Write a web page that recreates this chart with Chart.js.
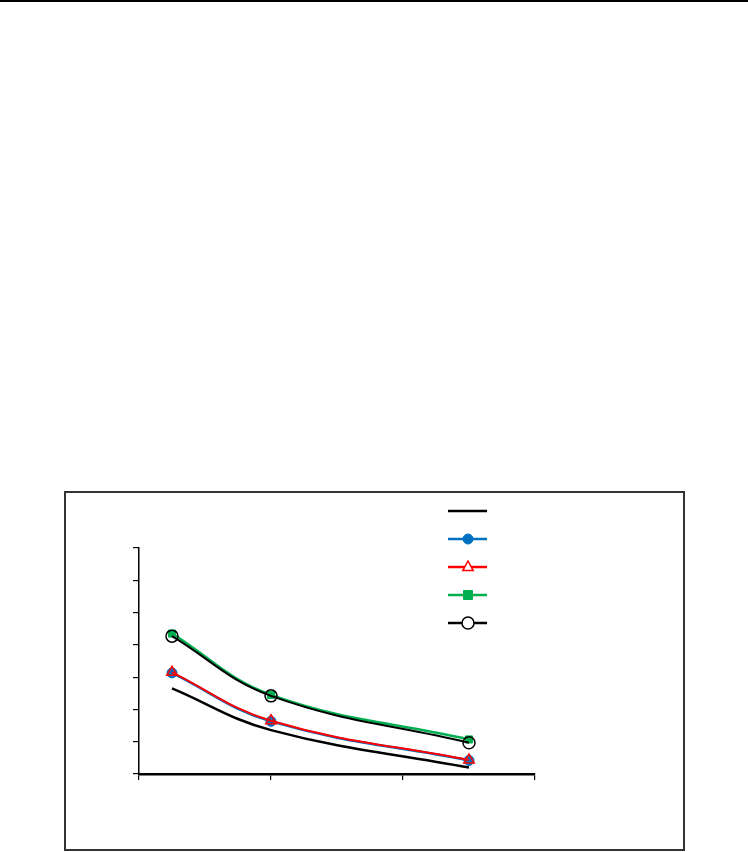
<!DOCTYPE html>
<html>
<head>
<meta charset="utf-8">
<script src="https://cdn.jsdelivr.net/npm/chart.js@4"></script>
<style>
  html, body { margin: 0; padding: 0; background: #fff; }
  #wrap { position: absolute; left: 0; top: 0; width: 748px; height: 852px; }
</style>
</head>
<body>
<div id="wrap"><canvas id="myChart" width="748" height="852"></canvas></div>
<script>
var xValues = [0.25, 1, 2.5];
var blackLine = [2.65, 1.36, 0.2];
var blueDots = [3.13, 1.63, 0.42];
var redTriangles = [3.15, 1.65, 0.43];
var greenSquares = [4.35, 2.45, 1.07];
var blackCircles = [4.27, 2.42, 0.97];

function pts(ys) {
    return xValues.map(function (x, i) { return { x: x, y: ys[i] }; });
}

// drawn top-first: index 0 lies on top
var datasets = [
    { data: pts(blackCircles), borderColor: '#000', borderWidth: 2, pointStyle: 'circle', pointRadius: 6,
      pointBackgroundColor: 'rgba(0,0,0,0)', pointBorderColor: '#000', pointBorderWidth: 1.5 },
    { data: pts(greenSquares), borderColor: '#00B050', borderWidth: 2.5, pointStyle: 'rect', pointRadius: 5,
      pointBackgroundColor: '#00B050', pointBorderColor: '#00B050', pointBorderWidth: 1 },
    { data: pts(redTriangles), borderColor: '#FF0000', borderWidth: 2, pointStyle: 'triangle', pointRadius: 6,
      pointBackgroundColor: 'rgba(0,0,0,0)', pointBorderColor: '#FF0000', pointBorderWidth: 1.5 },
    { data: pts(blueDots), borderColor: '#0070C0', borderWidth: 2.5, pointStyle: 'circle', pointRadius: 5,
      pointBackgroundColor: '#0070C0', pointBorderColor: '#0070C0', pointBorderWidth: 1 },
    { data: pts(blackLine), borderColor: '#000', borderWidth: 2.5, pointRadius: 0 }
];
datasets.forEach(function (d) { d.showLine = true; d.tension = 0.4; d.fill = false; });

// legend rows, top to bottom: which dataset each row shows
var legendRows = [4, 3, 2, 1, 0];

var decor = {
    id: 'decor',
    afterDraw: function (chart) {
        var c = chart.ctx;
        c.save();
        c.fillStyle = '#000';
        c.fillRect(0, 0, 748, 2);
        c.strokeStyle = '#333';
        c.lineWidth = 2;
        c.strokeRect(65, 492, 619, 358);
        legendRows.forEach(function (di, row) {
            var d = chart.data.datasets[di];
            var y = 511 + row * 28;
            c.strokeStyle = d.borderColor;
            c.lineWidth = 2.5;
            c.beginPath();
            c.moveTo(448, y);
            c.lineTo(487, y);
            c.stroke();
            if (d.pointRadius > 0) {
                c.fillStyle = d.pointBackgroundColor === 'rgba(0,0,0,0)' ? '#fff' : d.pointBackgroundColor;
                c.strokeStyle = d.pointBorderColor;
                c.lineWidth = d.pointBorderWidth;
                c.beginPath();
                if (d.pointStyle === 'circle') {
                    c.arc(468, y, d.pointRadius, 0, Math.PI * 2);
                } else if (d.pointStyle === 'rect') {
                    var s = d.pointRadius * 0.9;
                    c.rect(468 - s, y - s, s * 2, s * 2);
                } else {
                    var r = d.pointRadius;
                    c.moveTo(468, y - r);
                    c.lineTo(468 + r * 0.87, y + r * 0.6);
                    c.lineTo(468 - r * 0.87, y + r * 0.6);
                    c.closePath();
                }
                c.fill();
                c.stroke();
            }
        });
        c.restore();
    }
};

var ctx = document.getElementById('myChart').getContext('2d');
var myChart = new Chart(ctx, {
    type: 'scatter',
    data: { datasets: datasets },
    options: {
        responsive: false,
        animation: false,
        layout: { padding: { left: 132, right: 213, top: 548, bottom: 72 } },
        plugins: { legend: { display: false }, tooltip: { enabled: false } },
        scales: {
            x: {
                type: 'linear', min: 0, max: 3,
                ticks: { display: false, stepSize: 1 },
                grid: { drawOnChartArea: false, drawTicks: true, tickLength: 6, color: '#000', lineWidth: 1.2 },
                border: { color: '#000', width: 2.5 },
                afterFit: function (s) { s.height = 6; }
            },
            y: {
                type: 'linear', min: 0, max: 7,
                ticks: { display: false, stepSize: 1 },
                grid: { drawOnChartArea: false, drawTicks: true, tickLength: 6, color: '#000', lineWidth: 1.2 },
                border: { color: '#000', width: 1.5 },
                afterFit: function (s) { s.width = 7; }
            }
        }
    },
    plugins: [decor]
});
</script>
</body>
</html>
